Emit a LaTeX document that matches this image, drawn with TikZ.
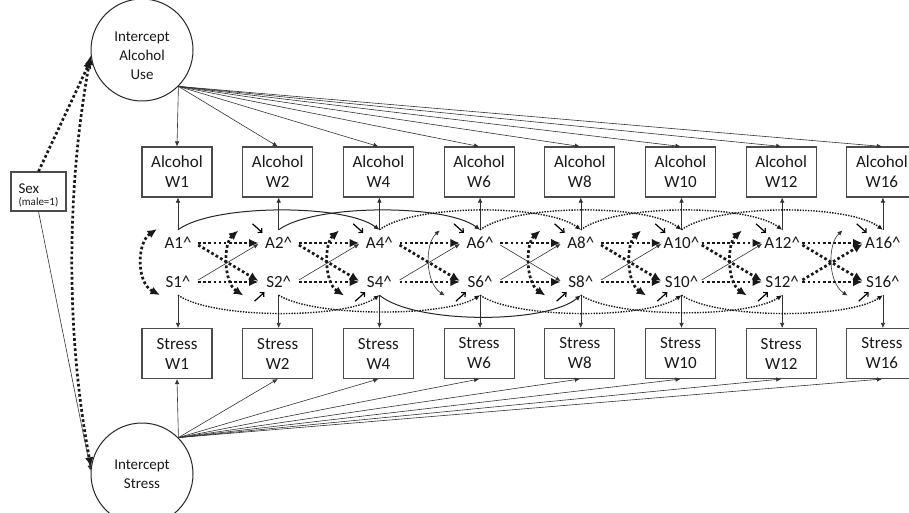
\documentclass[tikz,border=0pt]{standalone}
\usepackage{fontspec}
\setmainfont{Carlito}
\usetikzlibrary{arrows.meta,calc}
\begin{document}
\begin{tikzpicture}[x=1pt,y=-1pt,
  box/.style={draw=black!70, line width=1.1pt, minimum width=70pt, minimum height=50pt, align=center, inner sep=0pt, text=black!90, font=\fontsize{17}{20}\selectfont},
  lbl/.style={minimum width=40pt, minimum height=26pt, inner sep=2pt, text=black!90, font=\fontsize{17}{20}\selectfont},
  latent/.style={circle, draw=black!85, line width=1pt, minimum size=102pt, inner sep=0pt, align=center, text=black!90, font=\fontsize{15}{19}\selectfont},
  ln/.style={draw=black!80, line width=0.6pt},
  thinarr/.style={ln, -{Latex[length=5pt,width=4.5pt]}},
  thinboth/.style={ln, {Latex[length=5pt,width=4.5pt]}-{Latex[length=5pt,width=4.5pt]}},
  tdot/.style={draw=black!90, line width=2.7pt, dash pattern=on 2.7pt off 2.4pt, -{Latex[length=9.5pt,width=8.5pt]}},
  tdotboth/.style={draw=black!90, line width=2.7pt, dash pattern=on 2.7pt off 2.4pt, {Latex[length=9.5pt,width=8.5pt]}-{Latex[length=9.5pt,width=8.5pt]}},
  arcsolid/.style={draw=black!85, line width=1pt, -{Latex[length=5.5pt,width=5pt]}},
  arcdot/.style={draw=black!90, line width=1.4pt, dash pattern=on 1.4pt off 1.3pt, -{Latex[length=5.5pt,width=5pt]}},
  dist/.style={draw=black, line width=1.2pt, -{Straight Barb[length=3pt,width=6pt]}},
]
\fill[white] (0,0) rectangle (909,513);
\useasboundingbox (0,0) rectangle (909,513);

% latent intercepts and covariate
\node[latent] (IA) at (142,50) {\rule{0pt}{22pt}Intercept\\Alcohol\\Use};
\node[latent] (IS) at (142,474) {Intercept\\Stress};
\node[draw=black!70, line width=1.1pt, minimum width=55pt, minimum height=39pt, inner sep=0pt, align=left, text=black!90, font=\fontsize{11}{12}\selectfont] (Sex) at (38.5,191.5)
  {{\fontsize{15}{12}\selectfont\rule{0pt}{17pt}Sex}\\(male=1)};

% observed and residual nodes
\foreach \w [count=\i from 0] in {1,2,4,6,8,10,12,16}{
  \pgfmathsetmacro{\xx}{177+100.7*\i}
  \node[box] (AW\w) at (\xx,172) {Alcohol\\W\w};
  \node[box] (SW\w) at (\xx,353.5) {Stress\\W\w};
  \node[lbl] (A\w) at (\xx+1,243) {A\w\textasciicircum};
  \node[lbl] (S\w) at (\xx+1,282) {S\w\textasciicircum};
}

% intercept loadings and residual-to-observed paths
\foreach \w in {1,2,4,6,8,10,12,16}{
  \draw[thinarr] (IA.-45) -- (AW\w.north);
  \draw[thinarr] (IS.45) -- (SW\w.south);
  \draw[thinarr] (A\w.north) -- (A\w.north |- AW\w.south);
  \draw[thinarr] (S\w.south) -- (S\w.south |- SW\w.north);
}

% sex effects and intercept covariance
\draw[tdot] (Sex.north) -- (IA.190);
\draw[thinarr] (Sex.south) -- (IS.176);
\draw[tdotboth] (IA.186) .. controls (66,190) and (66,335) .. (IS.172);

% lag-2 paths
\foreach \a/\c/\st in {1/4/arcsolid, 2/6/arcsolid, 4/8/arcdot, 6/10/arcdot, 8/12/arcdot, 10/16/arcdot}
  \draw[\st] (A\a.north) .. controls +(35,-26) and +(-35,-26) .. (A\c.north);
\foreach \a/\c/\st/\d in {1/4/arcdot/24, 2/6/arcdot/22, 4/8/arcsolid/29, 6/10/arcdot/24, 8/12/arcdot/23, 10/16/arcdot/24}
  \draw[\st] (S\a.south) .. controls +(35,\d) and +(-35,\d) .. (S\c.south);

% wave-1 covariance
\coordinate (ct1) at ($(A1)+(-21,-14)$);
\coordinate (cb1) at ($(S1)+(-18,13)$);
\draw[tdotboth] (ct1) .. controls ($(A1)+(-41.5,0)$) and ($(S1)+(-41.5,1)$) .. (cb1);

% autoregressive and cross-lagged paths
\foreach \a/\b/\ad/\sd/\ar in {1/2/tdot/thinarr/tdotboth, 2/4/tdot/thinarr/tdotboth, 4/6/tdot/thinarr/thinboth, 6/8/thinarr/thinarr/tdotboth, 8/10/tdot/thinarr/tdotboth, 10/12/tdot/thinarr/tdotboth, 12/16/tdot/tdot/thinboth}{
  \draw[tdot] (A\a.east) -- (A\b.west);
  \draw[tdot] (S\a.east) -- (S\b.west);
  \draw[\ad] ([yshift=-2pt]A\a.east) -- ([yshift=1pt]S\b.west);
  \draw[\sd] ([yshift=2pt]S\a.east) -- ([yshift=-1pt]A\b.west);
  \coordinate (m\b) at ($(A\a)!0.5!(S\b)$);
  \coordinate (ct\b) at ($(m\b)+(10,-32)$);
  \coordinate (cb\b) at ($(m\b)+(15,33)$);
  \draw[\ar] (ct\b) .. controls ($(m\b)+(-5,-19)$) and ($(m\b)+(-5,20)$) .. (cb\b);
  \draw[dist] ([shift={(-6pt,6pt)}]A\b.north west) -- ([shift={(4pt,-3pt)}]A\b.north west);
  \draw[dist] ([shift={(-4pt,-6pt)}]S\b.south west) -- ([shift={(6pt,3pt)}]S\b.south west);
}
\end{tikzpicture}
\end{document}
